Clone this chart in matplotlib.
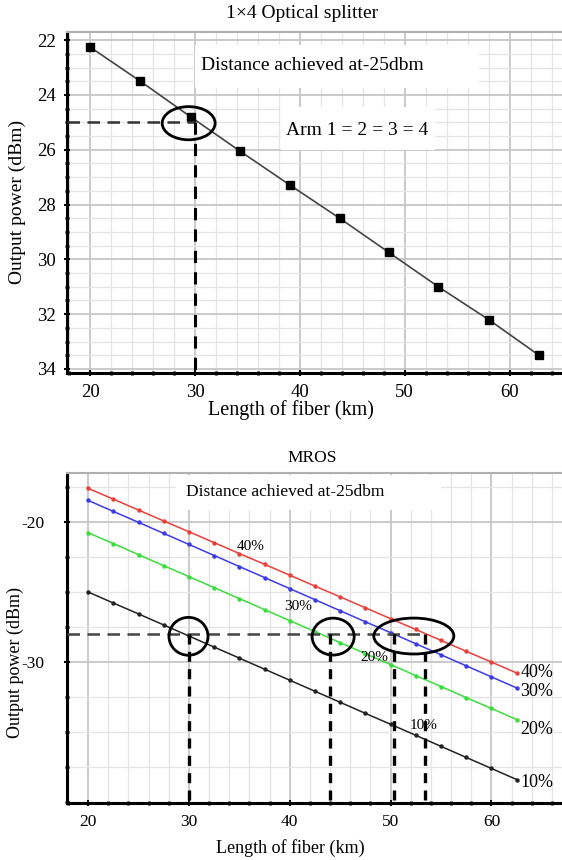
import matplotlib
matplotlib.use('Agg')
import matplotlib.pyplot as plt
from matplotlib.patches import Ellipse, Rectangle
import numpy as np

plt.rcParams['font.family'] = ['Liberation Serif', 'DejaVu Serif']
plt.rcParams['axes.unicode_minus'] = False

W, H = 562, 860

# --- data ---
splitter_km = [20, 24.8, 29.6, 34.3, 39.1, 43.8, 48.5, 53.2, 58.0, 62.8]
splitter_dbm = [22.25, 23.5, 24.8, 26.05, 27.3, 28.5, 29.75, 31.0, 32.2, 33.5]
splitter_target = 25
splitter_cross = 30

mros_km = [20, 22.5, 25, 27.5, 30, 32.5, 35, 37.5, 40, 42.5, 45, 47.5,
           50, 52.5, 55, 57.5, 60, 62.5]
mros_40 = [-17.60, -18.37, -19.15, -19.93, -20.70, -21.48, -22.26, -23.03, -23.81,
           -24.59, -25.36, -26.14, -26.92, -27.69, -28.47, -29.25, -30.02, -30.80]
mros_30 = [-18.46, -19.25, -20.03, -20.82, -21.61, -22.40, -23.19, -23.98, -24.77,
           -25.56, -26.35, -27.14, -27.92, -28.71, -29.50, -30.29, -31.08, -31.87]
mros_20 = [-20.77, -21.55, -22.34, -23.13, -23.91, -24.70, -25.48, -26.27, -27.06,
           -27.84, -28.63, -29.42, -30.20, -30.99, -31.77, -32.56, -33.34, -34.13]
mros_10 = [-25.01, -25.80, -26.58, -27.37, -28.16, -28.95, -29.74, -30.53, -31.32,
           -32.11, -32.90, -33.69, -34.47, -35.26, -36.05, -36.84, -37.63, -38.42]
mros_labels = ['40%', '30%', '20%', '10%']
mros_colors = ['#e8403a', '#3c3ce6', '#3ddc3d', '#222222']
mros_target = -28
mros_cross = [30, 44, 50.3, 53.4]


def fx(px):
    return px / W


def fy(py):
    return 1 - py / H


def style_axes(ax):
    ax.grid(which='minor', color='#e4e4e4', lw=0.9, zorder=0)
    ax.grid(which='major', color='#c6c6c6', lw=1.3, zorder=0)
    ax.set_axisbelow(True)
    for s in ['left', 'bottom']:
        ax.spines[s].set_linewidth(2.2)
        ax.spines[s].set_color('black')
    ax.spines['right'].set_visible(False)
    ax.spines['top'].set_color('#b0b0b0')
    ax.spines['top'].set_linewidth(1.5)
    ax.tick_params(which='major', length=4, width=1.5, direction='inout', pad=6)
    ax.tick_params(which='minor', length=3, width=2, direction='inout')


fig = plt.figure(figsize=(W / 100, H / 100), dpi=100)

# ---------------- top: 1x4 optical splitter ----------------
ax1 = fig.add_axes([fx(67), fy(373), fx(562) - fx(67), fy(32) - fy(373)])
ax1.set_xlim(17.8, 65.0)
ax1.set_ylim(34.15, 21.7)
ax1.set_xticks([20, 30, 40, 50, 60])
ax1.set_xticks(np.arange(18, 66, 2), minor=True)
ax1.set_yticks([22, 24, 26, 28, 30, 32, 34])
ax1.set_yticks(np.arange(22, 34.1, 0.5), minor=True)
style_axes(ax1)
ax1.tick_params(labelsize=13.5)

ax1.add_patch(Rectangle((30, 22.18), 27.1, 1.58, facecolor='white',
                        edgecolor='none', zorder=1))
ax1.add_patch(Rectangle((38.2, 24.45), 14.7, 1.57, facecolor='white',
                        edgecolor='none', zorder=1))
ax1.text(41.2, 22.92, 'Distance achieved at-25dbm', fontsize=14,
         ha='center', va='center', zorder=2)
ax1.text(45.5, 25.3, 'Arm 1 = 2 = 3 = 4', fontsize=14,
         ha='center', va='center', zorder=2)

ax1.plot(splitter_km, splitter_dbm, color='#444444', lw=1.2, marker='s',
         ms=5.5, mfc='black', mec='black', zorder=3)
ax1.plot([17.8, splitter_cross], [splitter_target, splitter_target],
         color='#333333', lw=1.8, ls=(0, (5, 3)), zorder=3)
ax1.plot([splitter_cross, splitter_cross], [splitter_target, 34.15],
         color='black', lw=2.2, ls=(0, (4, 3)), zorder=3)
ax1.add_patch(Ellipse((29.4, 25.03), 5.05, 1.21, fill=False,
                      edgecolor='black', lw=2, zorder=4))

fig.text(fx(302), fy(14), '1×4 Optical splitter', fontsize=14,
         ha='center', va='center')
fig.text(fx(291), fy(410), 'Length of fiber (km)', fontsize=14.5,
         ha='center', va='center')
fig.text(fx(17), fy(202), 'Output power (dBm)', fontsize=14,
         ha='center', va='center', rotation=90)

# ---------------- bottom: MROS ----------------
ax2 = fig.add_axes([fx(67), fy(803), fx(562) - fx(67), fy(473) - fy(803)])
ax2.set_xlim(17.9, 67.0)
ax2.set_ylim(-40.1, -16.5)
ax2.set_xticks([20, 30, 40, 50, 60])
ax2.set_xticks(np.arange(18, 67, 2), minor=True)
ax2.set_yticks([-30, -20])
ax2.set_yticks(np.arange(-40, -16, 2.5), minor=True)
style_axes(ax2)
ax2.tick_params(labelsize=12.5)
ax2.tick_params(axis='y', pad=14)

ax2.add_patch(Rectangle((28.7, -19.16), 26.3, 2.5, facecolor='white',
                        edgecolor='none', zorder=1))
ax2.text(39.5, -17.86, 'Distance achieved at-25dbm', fontsize=12.5,
         ha='center', va='center', zorder=2)

for ys, c in zip([mros_40, mros_30, mros_20, mros_10], mros_colors):
    ax2.plot(mros_km, ys, color=c, lw=1.1, marker='o', ms=2.2,
             mfc=c, mec=c, zorder=3)

ax2.plot([17.9, mros_cross[-1]], [mros_target, mros_target],
         color='#444444', lw=1.8, ls=(0, (5, 3)), zorder=3)
for xc in mros_cross:
    ax2.plot([xc, xc], [mros_target, -40.1], color='black', lw=2.4,
             ls=(0, (3, 2.2)), zorder=3)

for (cx, cy, w, h) in [(29.95, -28.18, 3.87, 2.71), (44.3, -28.2, 4.17, 2.64),
                       (52.3, -28.16, 7.94, 2.57)]:
    ax2.add_patch(Ellipse((cx, cy), w, h, fill=False, edgecolor='black',
                          lw=2, zorder=4))

inner_pos = [(36.1, -21.74), (40.86, -26.07), (48.4, -29.66), (53.26, -34.59)]
right_pos = [-30.74, -32.16, -34.81, -38.66]
for lab, (tx, ty), ry in zip(mros_labels, inner_pos, right_pos):
    ax2.text(tx, ty, lab, fontsize=11, ha='center', va='center', zorder=5)
    ax2.text(64.5, ry, lab, fontsize=13, ha='center', va='center', zorder=5)

fig.text(fx(312), fy(458), 'MROS', fontsize=12.5, ha='center', va='center')
fig.text(fx(290), fy(848), 'Length of fiber (km)', fontsize=13,
         ha='center', va='center')
fig.text(fx(15), fy(662), 'Output power (dBm)', fontsize=13,
         ha='center', va='center', rotation=90)

fig.savefig('out.png', dpi=100)
